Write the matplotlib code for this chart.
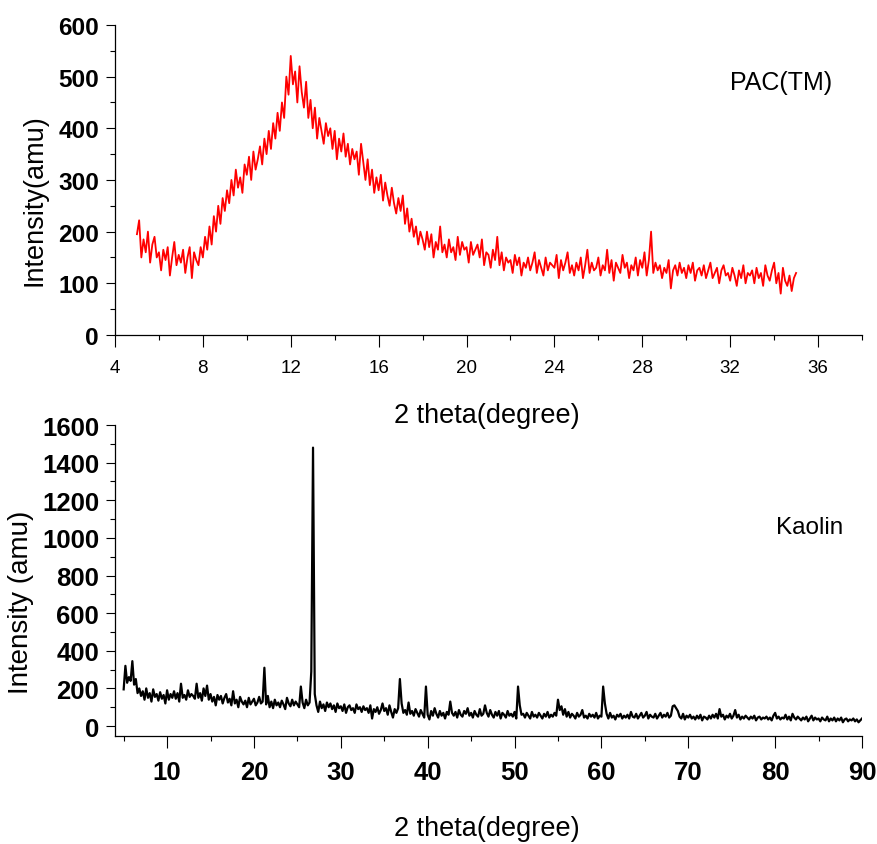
import numpy as np
import matplotlib
matplotlib.use("Agg")
import matplotlib.pyplot as plt
from matplotlib.ticker import MultipleLocator

NARROW = ["Liberation Sans Narrow", "Liberation Sans", "DejaVu Sans"]
WIDE = ["Liberation Sans", "DejaVu Sans"]

# PAC(TM): 2theta 5..35 step 0.1, intensity
pac_start, pac_stop = 5.0, 35.0
pac_counts = [
    195, 222, 150, 185, 160, 200, 140, 175, 190, 150,
    160, 125, 165, 145, 170, 115, 150, 180, 135, 155,
    140, 165, 120, 150, 170, 110, 160, 145, 135, 170,
    150, 190, 165, 210, 175, 230, 200, 250, 215, 265,
    240, 280, 255, 300, 270, 320, 285, 305, 275, 330,
    310, 345, 300, 355, 320, 340, 365, 330, 380, 350,
    395, 360, 410, 380, 430, 395, 450, 420, 500, 465,
    540, 485, 510, 450, 520, 470, 440, 490, 420, 455,
    400, 440, 380, 420, 395, 370, 410, 385, 400, 360,
    395, 340, 380, 355, 390, 345, 370, 330, 360, 340,
    355, 310, 370, 335, 300, 340, 290, 320, 275, 305,
    280, 310, 260, 295, 270, 250, 285, 255, 235, 265,
    240, 270, 215, 245, 200, 225, 190, 210, 175, 200,
    185, 165, 200, 170, 195, 150, 180, 165, 210, 160,
    175, 150, 185, 160, 170, 145, 190, 155, 180, 165,
    170, 140, 180, 155, 165, 175, 150, 185, 135, 160,
    155, 130, 165, 145, 190, 135, 160, 125, 150, 140,
    145, 120, 155, 135, 150, 115, 140, 130, 150, 125,
    140, 160, 120, 145, 130, 115, 150, 125, 140, 135,
    130, 155, 110, 145, 125, 140, 160, 120, 135, 115,
    140, 125, 150, 110, 135, 165, 120, 140, 125, 130,
    150, 115, 135, 125, 165, 120, 145, 105, 140, 130,
    120, 155, 130, 140, 110, 135, 125, 150, 115, 145,
    130, 160, 115, 145, 200, 120, 140, 125, 135, 110,
    130, 120, 145, 90, 125, 135, 115, 140, 120, 130,
    110, 135, 120, 140, 105, 125, 130, 115, 135, 110,
    125, 140, 110, 120, 130, 100, 125, 135, 115, 120,
    105, 130, 115, 95, 125, 110, 135, 100, 120, 115,
    125, 100, 130, 110, 120, 95, 135, 115, 105, 125,
    140, 100, 120, 80, 130, 105, 95, 115, 85, 110,
    120,
]

# Kaolin: 2theta 5..90 step 0.2
kao_start, kao_stop = 5.0, 90.0
kao_counts = [
    195, 320, 230, 260, 240, 345, 220, 250, 175, 200,
    160, 185, 140, 200, 150, 175, 130, 195, 155, 170,
    135, 180, 145, 165, 120, 190, 140, 170, 150, 185,
    145, 175, 130, 225, 150, 165, 140, 190, 155, 170,
    160, 145, 225, 150, 175, 135, 200, 160, 215, 140,
    170, 130, 155, 110, 165, 140, 160, 120, 150, 170,
    125, 145, 110, 185, 120, 140, 100, 155, 130, 115,
    135, 100, 150, 115, 130, 145, 110, 125, 155, 120,
    130, 310, 115, 160, 100, 130, 95, 140, 110, 125,
    100, 135, 115, 90, 150, 120, 105, 140, 110, 130,
    115, 100, 210, 125, 95, 140, 110, 125, 290, 1480,
    170, 110, 75, 130, 95, 115, 80, 125, 100, 120,
    90, 110, 75, 120, 95, 105, 80, 115, 70, 100,
    110, 85, 95, 70, 115, 90, 100, 75, 105, 85,
    95, 70, 110, 40, 90, 75, 100, 65, 85, 120,
    80, 95, 60, 110, 75, 45, 90, 70, 95, 250,
    120, 70, 85, 60, 125, 65, 80, 55, 90, 70,
    50, 85, 65, 45, 210, 60, 35, 80, 55, 95,
    65, 45, 80, 55, 70, 40, 75, 60, 130, 70,
    55, 75, 45, 85, 60, 50, 80, 65, 95, 55,
    70, 45, 80, 60, 50, 90, 55, 65, 110, 70,
    50, 85, 60, 45, 75, 55, 80, 40, 70, 60,
    45, 80, 55, 65, 50, 75, 40, 210, 110, 60,
    65, 45, 70, 55, 40, 75, 50, 60, 45, 70,
    55, 40, 65, 50, 75, 45, 60, 50, 70, 55,
    140, 85, 105, 60, 90, 50, 75, 45, 65, 55,
    40, 70, 50, 60, 85, 45, 55, 40, 65, 50,
    60, 45, 70, 40, 55, 50, 210, 120, 65, 40,
    70, 45, 55, 35, 60, 50, 65, 40, 55, 45,
    60, 40, 75, 50, 45, 65, 40, 55, 70, 45,
    55, 75, 40, 60, 50, 45, 65, 40, 55, 70,
    45, 60, 50, 70, 45, 55, 105, 110, 95, 80,
    50, 40, 65, 35, 55, 45, 60, 40, 50, 35,
    55, 40, 60, 30, 50, 45, 35, 55, 40, 60,
    45, 65, 40, 90, 50, 60, 35, 55, 45, 65,
    40, 55, 85, 45, 60, 35, 50, 40, 55, 45,
    35, 50, 40, 55, 30, 45, 50, 35, 45, 40,
    50, 35, 45, 30, 55, 70, 40, 50, 35, 45,
    40, 60, 35, 50, 30, 65, 45, 35, 50, 40,
    30, 45, 35, 50, 25, 40, 55, 30, 45, 35,
    40, 25, 45, 35, 30, 50, 25, 40, 30, 45,
    25, 40, 30, 45, 20, 35, 40, 25, 35, 30,
    40, 25, 35, 20, 30, 40,
]

pac_x = np.linspace(pac_start, pac_stop, len(pac_counts))
kao_x = np.linspace(kao_start, kao_stop, len(kao_counts))

fig = plt.figure(figsize=(8.77, 8.45), dpi=100)
ax1 = fig.add_axes([0.1311, 0.6024, 0.8518, 0.3669])
ax2 = fig.add_axes([0.1311, 0.1278, 0.8518, 0.3680])

ax1.plot(pac_x, pac_counts, color="red", lw=1.3)
ax2.plot(kao_x, kao_counts, color="black", lw=1.6)

ax1.set_xlim(4, 38)
ax1.set_ylim(0, 600)
ax1.xaxis.set_major_locator(MultipleLocator(4))
ax1.xaxis.set_minor_locator(MultipleLocator(2))
ax1.yaxis.set_major_locator(MultipleLocator(100))
ax1.yaxis.set_minor_locator(MultipleLocator(50))

ax2.set_xlim(4, 90)
ax2.set_ylim(-53, 1600)
ax2.xaxis.set_major_locator(MultipleLocator(10))
ax2.xaxis.set_minor_locator(MultipleLocator(5))
ax2.yaxis.set_major_locator(MultipleLocator(200))
ax2.yaxis.set_minor_locator(MultipleLocator(100))

for ax in (ax1, ax2):
    for s in ("top", "right"):
        ax.spines[s].set_visible(False)
    for s in ("left", "bottom"):
        ax.spines[s].set_linewidth(0.9)
    ax.tick_params(axis="x", which="major", direction="out", length=8.6, width=0.8, pad=9)
    ax.tick_params(axis="x", which="minor", direction="out", length=3.6, width=0.8)
    ax.tick_params(axis="y", which="major", direction="out", length=6.5, width=0.8, pad=5)
    ax.tick_params(axis="y", which="minor", direction="out", length=3.6, width=0.8)

fig.canvas.draw()
for lab in ax1.get_xticklabels():
    lab.set_fontfamily(NARROW)
    lab.set_fontsize(13.5)
for lab in ax1.get_yticklabels():
    lab.set_fontfamily(WIDE)
    lab.set_fontweight("bold")
    lab.set_fontsize(17.6)
for lab in ax2.get_xticklabels() + ax2.get_yticklabels():
    lab.set_fontfamily(NARROW)
    lab.set_fontweight("bold")
    lab.set_fontsize(18.5)

fig.text(0.0388, 0.763, "Intensity(amu)", rotation=90, ha="center", va="center",
         family=WIDE, fontsize=19.5)
fig.text(0.024, 0.2876, "Intensity (amu)", rotation=90, ha="center", va="center",
         family=WIDE, fontsize=20)
fig.text(0.5553, 0.5077, "2 theta(degree)", ha="center", va="center",
         family=NARROW, fontsize=19.5)
fig.text(0.5553, 0.0190, "2 theta(degree)", ha="center", va="center",
         family=NARROW, fontsize=19.5)
fig.text(0.8905, 0.9018, "PAC(TM)", ha="center", va="center", family=NARROW, fontsize=18)
fig.text(0.9236, 0.3751, "Kaolin", ha="center", va="center", family=NARROW, fontsize=17.5)

fig.savefig("out.png", dpi=100)
